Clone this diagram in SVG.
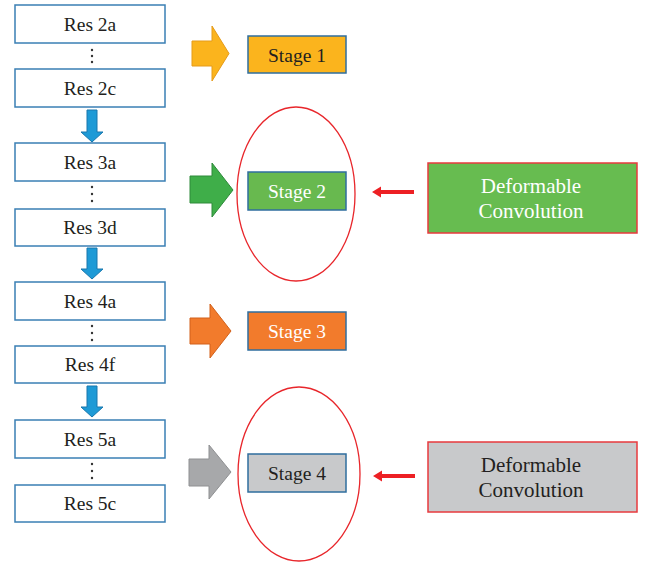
<svg xmlns="http://www.w3.org/2000/svg" width="646" height="562" viewBox="0 0 646 562">
  <style>
    .res rect { fill: #ffffff; stroke: #3a7fb4; stroke-width: 1.5; }
    .res text, .stage text, .deform text { font-family: "Liberation Serif", "DejaVu Serif", serif; text-anchor: middle; }
    .res text { font-size: 19.5px; fill: #231f20; }
    .dot { fill: #333333; }
    .stage rect { stroke: #2f6e9e; stroke-width: 1.5; }
    .stage text { font-size: 19.5px; }
    .deform rect { stroke: #e83a3e; stroke-width: 1.5; }
    .deform text { font-size: 21px; }
    .down { fill: #1e9ad6; stroke: #1877ad; stroke-width: 1; }
    .ring { fill: none; stroke: #e8262b; stroke-width: 1.3; }
    .redarrow { fill: #ed2024; }
  </style>

  <!-- residual blocks -->
  <g id="res2a" class="res"><rect x="15" y="5" width="150" height="38"/><text x="90" y="31">Res 2a</text></g>
  <g id="res2c" class="res"><rect x="15" y="69" width="150" height="38"/><text x="90" y="95">Res 2c</text></g>
  <g id="res3a" class="res"><rect x="15" y="143" width="150" height="38"/><text x="90" y="169">Res 3a</text></g>
  <g id="res3d" class="res"><rect x="15" y="209" width="150" height="37"/><text x="90" y="234">Res 3d</text></g>
  <g id="res4a" class="res"><rect x="15" y="282" width="150" height="38"/><text x="90" y="308">Res 4a</text></g>
  <g id="res4f" class="res"><rect x="15" y="346" width="150" height="37"/><text x="90" y="371">Res 4f</text></g>
  <g id="res5a" class="res"><rect x="15" y="420" width="150" height="38"/><text x="90" y="446">Res 5a</text></g>
  <g id="res5c" class="res"><rect x="15" y="485" width="150" height="37"/><text x="90" y="510">Res 5c</text></g>

  <!-- vertical ellipsis dots between blocks -->
  <g id="ellipsis">
    <circle class="dot" cx="92" cy="50" r="1.2"/><circle class="dot" cx="92" cy="56" r="1.2"/><circle class="dot" cx="92" cy="62" r="1.2"/>
    <circle class="dot" cx="92" cy="187" r="1.2"/><circle class="dot" cx="92" cy="194" r="1.2"/><circle class="dot" cx="92" cy="201" r="1.2"/>
    <circle class="dot" cx="92" cy="326" r="1.2"/><circle class="dot" cx="92" cy="333" r="1.2"/><circle class="dot" cx="92" cy="340" r="1.2"/>
    <circle class="dot" cx="92" cy="464" r="1.2"/><circle class="dot" cx="92" cy="471" r="1.2"/><circle class="dot" cx="92" cy="478" r="1.2"/>
  </g>

  <!-- stage outputs -->
  <g id="stage1" class="stage"><rect x="248" y="36" width="98" height="37" fill="#fbb41d"/><text x="297" y="62" fill="#231f20">Stage 1</text></g>
  <g id="stage2" class="stage"><rect x="248" y="172" width="98" height="38" fill="#68b94f"/><text x="297" y="198" fill="#ffffff">Stage 2</text></g>
  <g id="stage3" class="stage"><rect x="248" y="312" width="98" height="38" fill="#f27b2c"/><text x="297" y="338" fill="#ffffff">Stage 3</text></g>
  <g id="stage4" class="stage"><rect x="248" y="454" width="98" height="38" fill="#c8c9cb"/><text x="297" y="480" fill="#231f20">Stage 4</text></g>

  <!-- deformable convolution modules -->
  <g id="deform2" class="deform"><rect x="428" y="163" width="209" height="70" fill="#67bc50"/><text x="531" y="193" fill="#ffffff">Deformable</text><text x="531" y="218" fill="#ffffff">Convolution</text></g>
  <g id="deform4" class="deform"><rect x="428" y="442" width="209" height="70" fill="#c8c9cb"/><text x="531" y="472" fill="#231f20">Deformable</text><text x="531" y="497" fill="#231f20">Convolution</text></g>

  <!-- connectors -->
  <g id="connectors">
    <!-- downward block arrows -->
    <path class="down" d="M87 110 H97 V132 H103 L92 142 L81 132 H87 Z"/>
    <path class="down" d="M87 248 H97 V269 H103 L92 279 L81 269 H87 Z"/>
    <path class="down" d="M87 386 H97 V407 H103 L92 417 L81 407 H87 Z"/>
    <!-- block arrows into stages -->
    <path d="M192 41 H212 V26 L229 53.5 L212 81 V66 H192 Z" fill="#fbb41d" stroke="#e59b1a" stroke-width="1"/>
    <path d="M190 176 H212 V163 L233 190 L212 217 V203 H190 Z" fill="#3fae49" stroke="#2e8a3a" stroke-width="1"/>
    <path d="M190 318 H210 V304 L231 331 L210 358 V344 H190 Z" fill="#f27b2c" stroke="#d2611b" stroke-width="1"/>
    <path d="M189 459 H209 V445 L231 472 L209 499 V486 H189 Z" fill="#a7a8aa" stroke="#8f9092" stroke-width="1"/>
    <!-- highlight rings -->
    <ellipse class="ring" cx="296" cy="194" rx="59" ry="87"/>
    <ellipse class="ring" cx="299" cy="474" rx="61" ry="87"/>
    <!-- red arrows from deformable modules -->
    <path class="redarrow" d="M414 190 H381 V186.5 L372 192 L381 197.5 V194 H414 Z"/>
    <path class="redarrow" d="M415 474 H382 V470.5 L373 476 L382 481.5 V478 H415 Z"/>
  </g>
</svg>
